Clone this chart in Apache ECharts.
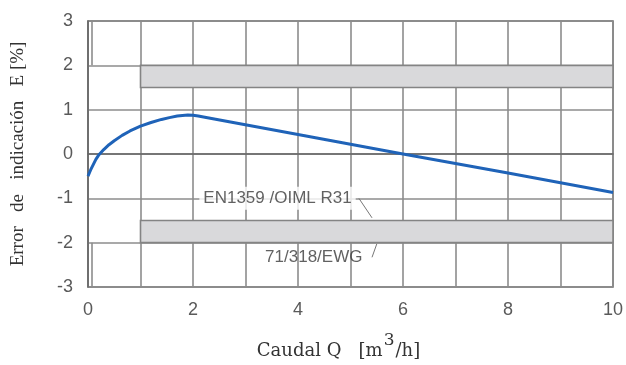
<!DOCTYPE html>
<html>
<head>
<meta charset="utf-8">
<script src="https://cdn.jsdelivr.net/npm/echarts@6/dist/echarts.min.js"></script>
<style>
  html, body { margin: 0; padding: 0; background: #fff; }
  #chart { width: 626px; height: 365px; }
</style>
</head>
<body>
<div id="chart"></div>
<script>
// Error curve of the meter: flow Q [m3/h] vs. indication error E [%]
const flowQ  = [0, 0.05, 0.1, 0.15, 0.2, 0.3, 0.4, 0.5, 0.65, 0.8, 1.0, 1.2, 1.4, 1.55, 1.7, 1.8, 1.9, 2.0, 2.1, 2.2, 4.0, 6.0, 8.0, 10.0];
const errorE = [-0.5, -0.36, -0.24, -0.12, -0.03, 0.1, 0.21, 0.3, 0.42, 0.52, 0.63, 0.71, 0.78, 0.82, 0.855, 0.87, 0.878, 0.875, 0.857, 0.835, 0.44, 0.0, -0.43, -0.87];

// Tolerance bands (limits of the standards)
const bandUpper = { x0: 1, x1: 10, y0: 1.5, y1: 2 };
const bandLower = { x0: 1, x1: 10, y0: -2, y1: -1.5 };

// Standard labels and their leader lines
const labelEN   = { text: 'EN1359 /OIML R31', x: 3.61, y: -1.0 };
const labelEWG  = { text: '71/318/EWG', x: 4.3, y: -2.33 };
const leaderEN  = [[5.16, -1.0], [5.41, -1.44]];
const leaderEWG = [[5.41, -2.33], [5.5, -2.03]];

// Short extra vertical line near the origin
const edgeLineX = 0.08;

const xTicks = [0, 2, 4, 6, 8, 10];

const chart = echarts.init(document.getElementById('chart'), null, { renderer: 'canvas' });

const gridColor = '#8c8c8c';
const sans = 'Liberation Sans, Arial, sans-serif';

chart.setOption({
  animation: false,
  backgroundColor: '#fff',
  grid: {
    left: 88, right: 13, top: 21, bottom: 78,
    outerBoundsMode: 'none', containLabel: false,
    show: true, borderColor: '#666', borderWidth: 1.5, backgroundColor: 'transparent'
  },
  xAxis: {
    type: 'value', min: 0, max: 10, interval: 1,
    axisLine: { show: true, lineStyle: { color: '#666', width: 1.5 } },
    axisTick: { show: false },
    axisLabel: {
      color: '#5a5a5a', fontFamily: sans, fontSize: 18, margin: 14,
      formatter: v => (xTicks.indexOf(v) >= 0 ? String(v) : '')
    },
    splitLine: { show: true, lineStyle: { color: gridColor, width: 1.6 } },
    name: '{t|Caudal Q   [m}{sup|3}{e|/h]}',
    nameLocation: 'middle', nameGap: 45,
    nameTextStyle: {
      rich: {
        t: { fontFamily: 'DejaVu Serif', fontSize: 18, color: '#333', verticalAlign: 'bottom', lineHeight: 28 },
        e: { fontFamily: 'DejaVu Serif', fontSize: 18, color: '#333', verticalAlign: 'bottom', lineHeight: 28, padding: [0, 24, 0, 0] },
        sup: { fontFamily: 'DejaVu Serif', fontSize: 17, color: '#333', verticalAlign: 'top', lineHeight: 14, padding: [0, 1, 0, 1] }
      }
    }
  },
  yAxis: {
    type: 'value', min: -3, max: 3, interval: 1,
    axisLine: { show: true, lineStyle: { color: '#666', width: 1.5 } },
    axisTick: { show: false },
    axisLabel: { color: '#5a5a5a', fontFamily: sans, fontSize: 18, margin: 15 },
    splitLine: { show: true, lineStyle: { color: gridColor, width: 1.6 } },
    name: 'Error   de   indicación   E [%]',
    nameLocation: 'middle', nameGap: 60,
    nameTextStyle: { fontFamily: 'Liberation Serif, serif', fontSize: 19, color: '#333' }
  },
  series: [
    {
      // tolerance bands and helper lines
      type: 'line', data: [], silent: true,
      markArea: {
        silent: true,
        itemStyle: { color: '#d9d9db', borderColor: '#848484', borderWidth: 1.6 },
        data: [
          [{ coord: [bandUpper.x0, bandUpper.y0] }, { coord: [bandUpper.x1, bandUpper.y1] }],
          [{ coord: [bandLower.x0, bandLower.y0] }, { coord: [bandLower.x1, bandLower.y1] }]
        ]
      },
      markLine: {
        silent: true, symbol: 'none', label: { show: false },
        lineStyle: { type: 'solid', color: gridColor, width: 1.6 },
        data: [
          [{ coord: [edgeLineX, 2] }, { coord: [edgeLineX, 3] }],
          [{ coord: [edgeLineX, -3] }, { coord: [edgeLineX, -2] }],
          [{ coord: leaderEN[0], lineStyle: { color: '#777', width: 1 } }, { coord: leaderEN[1] }],
          [{ coord: leaderEWG[0], lineStyle: { color: '#777', width: 1 } }, { coord: leaderEWG[1] }]
        ]
      }
    },
    {
      type: 'scatter', symbolSize: 0, silent: true, z: 5,
      data: [[labelEN.x, labelEN.y, labelEN.text]],
      label: {
        show: true, position: 'inside', formatter: p => p.data[2],
        fontFamily: sans, fontSize: 17, color: '#3a3a3a',
        backgroundColor: '#fff', padding: [3, 4, 3, 4]
      }
    },
    {
      type: 'scatter', symbolSize: 0, silent: true, z: 5,
      data: [[labelEWG.x, labelEWG.y, labelEWG.text]],
      label: {
        show: true, position: 'inside', formatter: p => p.data[2],
        fontFamily: sans, fontSize: 17, color: '#3a3a3a'
      }
    },
    {
      type: 'line', smooth: false, showSymbol: false, z: 6,
      data: flowQ.map((q, i) => [q, errorE[i]]),
      lineStyle: { color: '#1f63b8', width: 3, join: 'round' }
    }
  ]
});
</script>
</body>
</html>
